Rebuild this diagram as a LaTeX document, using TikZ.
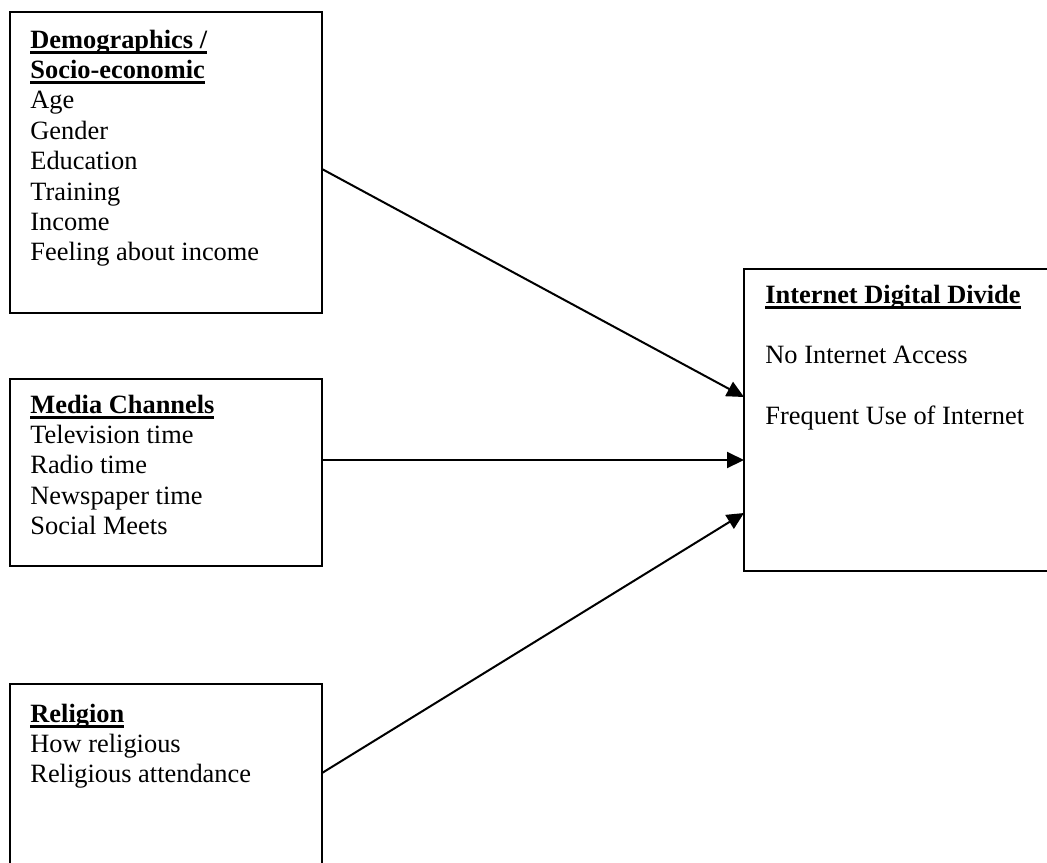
\documentclass[tikz,border=0pt]{standalone}
\usepackage{fontspec}
\setmainfont{Liberation Serif}
\usetikzlibrary{arrows.meta,calc}
\newcommand\hdul[1]{\setbox0\hbox{\textbf{#1}}\rlap{\raisebox{-2.8pt}{\rule{\wd0}{1.4pt}}}\box0}
\begin{document}
\begin{tikzpicture}[x=0.5pt,y=-0.5pt,
  box/.style={draw,line width=1pt,inner sep=0pt,outer sep=0pt,anchor=north west},
  lbl/.style={anchor=base west,inner sep=0pt,font=\fontsize{13.2}{15.2}\selectfont},
  conn/.style={line width=1pt,-{Triangle[length=8.5pt,width=8pt]}}]
\useasboundingbox (0,0) rectangle (1047,862);
\node[box,minimum width=156pt,minimum height=150.5pt] (b1) at (10,12) {};
\node[box,minimum width=156pt,minimum height=93.5pt] (b2) at (10,379) {};
\node[box,minimum width=156pt,minimum height=98pt] (b3) at (10,684) {};
\node[box,minimum width=158pt,minimum height=151pt] (b4) at (744,269) {};

\node[lbl] (t1) at (30,48) {\begin{tabular}[t]{@{}l@{}}\hdul{Demographics /}\\\hdul{Socio-economic}\\Age\\Gender\\Education\\Training\\Income\\Feeling about income\end{tabular}};
\node[lbl] (t2) at (30,413) {\begin{tabular}[t]{@{}l@{}}\hdul{Media Channels}\\Television time\\Radio time\\Newspaper time\\Social Meets\end{tabular}};
\node[lbl] (t3) at (30,722) {\begin{tabular}[t]{@{}l@{}}\hdul{Religion}\\How religious\\Religious attendance\end{tabular}};
\node[lbl] (t4) at (765,303) {\begin{tabular}[t]{@{}l@{}}\hdul{Internet Digital Divide}\\ \\No Internet Access\\ \\Frequent Use of Internet\end{tabular}};

\coordinate (s1) at (b1.east |- 0,169);
\coordinate (s2) at (b2.east |- 0,460);
\coordinate (s3) at (b3.east |- 0,773);
\coordinate (e1) at (b4.west |- 0,397);
\coordinate (e2) at (b4.west |- 0,460);
\coordinate (e3) at (b4.west |- 0,513);
\draw[conn] (s1) -- (e1);
\draw[conn] (s2) -- (e2);
\draw[conn] (s3) -- (e3);
\end{tikzpicture}
\end{document}
